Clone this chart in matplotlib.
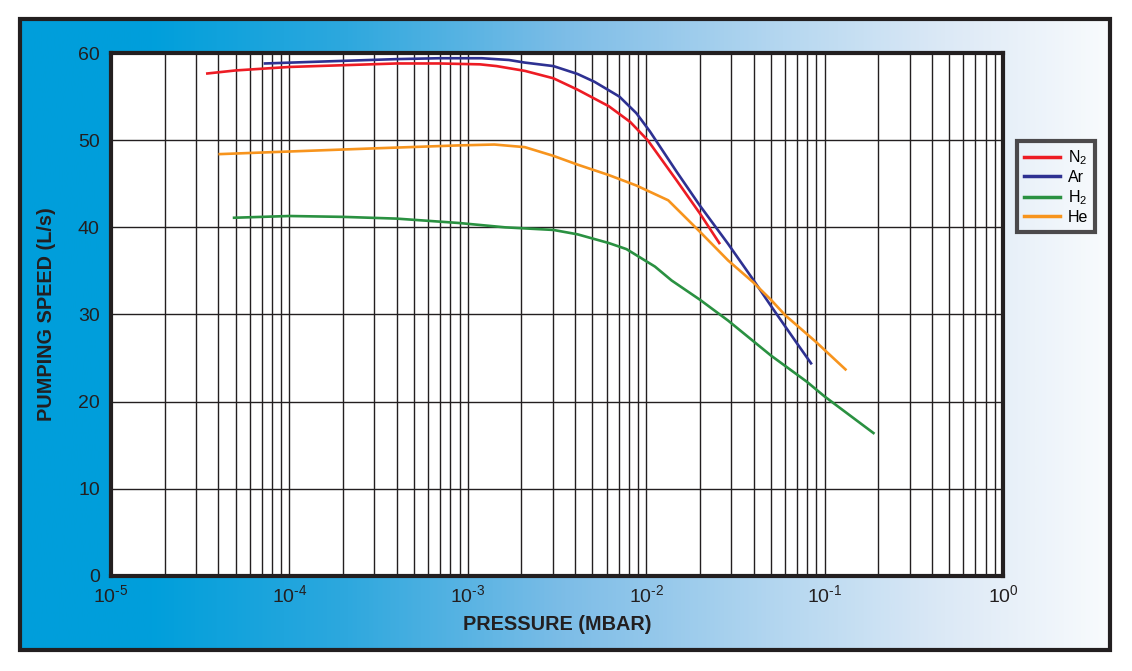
import numpy as np
import matplotlib.pyplot as plt
from matplotlib.colors import LinearSegmentedColormap
from matplotlib.patches import Rectangle
from matplotlib.ticker import FixedLocator, FuncFormatter, LogLocator, NullFormatter

plt.rcParams['font.family'] = ['Liberation Sans', 'DejaVu Sans']
plt.rcParams['mathtext.default'] = 'regular'

# pressure (mbar) and pumping speed (L/s)
n2_p = [3.47e-5, 5.0e-5, 1.0e-4, 2.0e-4, 4.0e-4, 6.9e-4, 1.17e-3, 1.45e-3, 2.09e-3, 3.02e-3,
        4.12e-3, 6.17e-3, 8.13e-3, 1.02e-2, 1.48e-2, 2.0e-2, 2.57e-2]
n2_s = [57.65, 58.0, 58.4, 58.6, 58.8, 58.8, 58.7, 58.5, 57.95, 57.1,
        55.8, 53.9, 52.1, 50.0, 45.4, 41.6, 38.2]

ar_p = [7.3e-5, 2.0e-4, 4.0e-4, 6.9e-4, 1.2e-3, 1.7e-3, 2.09e-3, 3.02e-3, 4.12e-3, 5.13e-3,
        7.08e-3, 8.81e-3, 1.05e-2, 1.48e-2, 2.0e-2, 2.88e-2, 3.98e-2, 5.0e-2, 7.0e-2, 8.4e-2]
ar_s = [58.8, 59.1, 59.3, 59.4, 59.4, 59.2, 58.9, 58.5, 57.6, 56.7,
        55.0, 53.1, 51.0, 46.4, 42.5, 38.1, 34.0, 31.0, 26.7, 24.4]

h2_p = [4.9e-5, 1.0e-4, 2.0e-4, 4.0e-4, 8.9e-4, 1.62e-3, 3.02e-3, 4.12e-3, 6.17e-3, 7.76e-3,
        1.12e-2, 1.39e-2, 2.0e-2, 2.88e-2, 5.0e-2, 7.94e-2, 1.0e-1, 1.88e-1]
h2_s = [41.1, 41.3, 41.2, 41.0, 40.5, 40.0, 39.7, 39.2, 38.2, 37.5,
        35.5, 33.9, 31.7, 29.3, 25.3, 22.3, 20.6, 16.4]

he_p = [4.07e-5, 1.0e-4, 2.9e-4, 8.9e-4, 1.41e-3, 2.09e-3, 3.02e-3, 4.12e-3, 6.17e-3, 8.81e-3,
        1.33e-2, 2.0e-2, 2.88e-2, 3.98e-2, 5.0e-2, 6.03e-2, 8.9e-2, 1.31e-1]
he_s = [48.4, 48.7, 49.05, 49.4, 49.5, 49.2, 48.2, 47.2, 46.0, 44.8,
        43.1, 39.5, 36.2, 33.7, 31.7, 29.9, 26.9, 23.7]

y_ticks = [0, 10, 20, 30, 40, 50, 60]
x_ticks = [1e-5, 1e-4, 1e-3, 1e-2, 1e-1, 1e0]

fig = plt.figure(figsize=(11.32, 6.71), dpi=100)

# gradient panel behind everything
bg = fig.add_axes([0.0177, 0.0313, 0.9629, 0.9404], zorder=0)
grad = LinearSegmentedColormap.from_list('panel', [
    (0.0, '#009edb'), (0.12, '#009fdb'), (0.3, '#2ea8de'),
    (0.5, '#7dbde7'), (0.7, '#b5d7f0'), (0.85, '#dce9f6'), (1.0, '#f9fbfd')])
bg.imshow(np.linspace(0, 1, 512).reshape(1, -1), cmap=grad, aspect='auto',
          extent=[0, 1, 0, 1])
bg.set_xlim(0, 1)
bg.set_ylim(0, 1)
bg.axis('off')
fig.patches.append(Rectangle((0.0177, 0.0313), 0.9629, 0.9404, transform=fig.transFigure,
                             fill=False, edgecolor='#231f20', linewidth=3, zorder=5))

ax = fig.add_axes([0.098, 0.1416, 0.788, 0.7794], zorder=1)
ax.set_facecolor('white')
ax.set_xscale('log')
ax.set_xlim(1e-5, 1e0)
ax.set_ylim(0, 60)

ax.plot(n2_p, n2_s, color='#ed1c24', lw=1.9, label='N$_2$', zorder=3)
ax.plot(ar_p, ar_s, color='#2e3192', lw=1.9, label='Ar', zorder=3)
ax.plot(h2_p, h2_s, color='#2a9141', lw=1.9, label='H$_2$', zorder=3)
ax.plot(he_p, he_s, color='#f7941d', lw=1.9, label='He', zorder=3)

ax.xaxis.set_major_locator(FixedLocator(x_ticks))
ax.xaxis.set_minor_locator(LogLocator(base=10, subs=np.arange(2, 10), numticks=20))
ax.xaxis.set_minor_formatter(NullFormatter())


def dec_label(v, pos):
    e = int(round(np.log10(v)))
    if e < 0:
        return '$10^{\u2010%d}$' % abs(e)
    return '$10^{%d}$' % e


ax.xaxis.set_major_formatter(FuncFormatter(dec_label))
ax.set_yticks(y_ticks)
ax.grid(True, which='both', axis='x', color='#231f20', lw=1.0)
ax.grid(True, which='major', axis='y', color='#231f20', lw=1.0)
ax.tick_params(which='both', length=0)
ax.tick_params(axis='x', labelsize=14, pad=6, colors='#231f20')
ax.tick_params(axis='y', labelsize=14, pad=8, colors='#231f20')
for s in ax.spines.values():
    s.set_linewidth(3)
    s.set_color('#231f20')

ax.set_xlabel('PRESSURE (MBAR)', fontsize=14.3, fontweight='bold', color='#231f20', labelpad=6)
ax.set_ylabel('PUMPING SPEED (L/s)', fontsize=14.3, fontweight='bold', color='#231f20', labelpad=16)

leg = fig.legend(loc='upper left', bbox_to_anchor=(0.898, 0.79), fontsize=11.5,
                 frameon=True, fancybox=False, handlelength=2.3, handletextpad=0.45,
                 borderpad=0.45, labelspacing=0.2, borderaxespad=0)
leg.get_frame().set_edgecolor('#231f20')
leg.get_frame().set_linewidth(3)
leg.get_frame().set_facecolor('none')
for line in leg.get_lines():
    line.set_linewidth(2.5)

fig.savefig('out.png', dpi=100)
